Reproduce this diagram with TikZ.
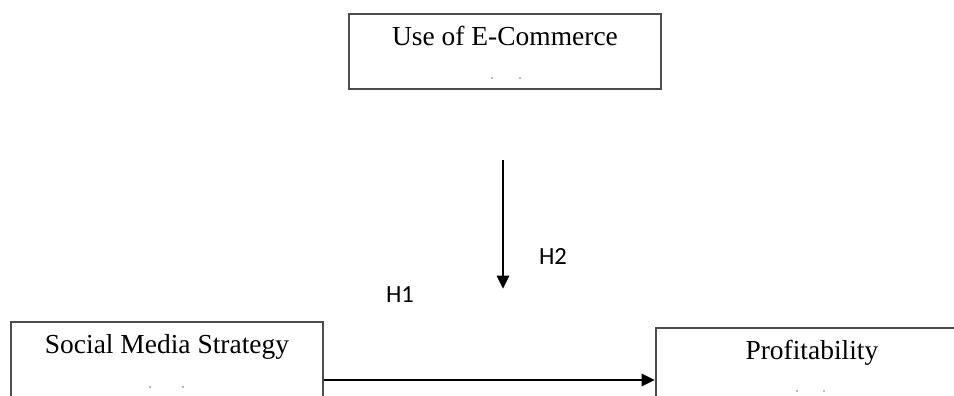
\documentclass[tikz,border=0pt]{standalone}
\usepackage{fontspec}
\setmainfont{Liberation Serif}
\newfontfamily\hypfont{Carlito}
\usepackage{tikz}
\usetikzlibrary{positioning, arrows.meta}
\tikzset{
	x=0.75pt, y=-0.75pt, % one unit is one pixel of the reference
	varbox/.style={draw=black!70, line width=1.4pt, fill=white, inner sep=0pt, minimum width=234pt, text height=24pt, font=\fontsize{20.6}{24}\selectfont}, % variable boxes
	link/.style={-{Triangle[length=10pt, width=9pt]}, line width=2.2pt}, % hypothesis arrows
	hyp/.style={font=\hypfont\fontsize{18.5}{20}\selectfont}, % H labels
	speck/.style={circle, fill=black!55, inner sep=0pt, minimum size=1.4pt}, % small dots in the boxes
}
\begin{document}
\begin{tikzpicture}
		\useasboundingbox (0,0) rectangle (954,396);
		\clip (0,0) rectangle (954,396);
		
		\node[varbox, text depth=32.25pt, anchor=north] (ecom) at (505,13) {Use of E-Commerce};
		\node[varbox, text depth=50pt, anchor=north] (social) at (167,321) {Social Media Strategy};
		\node[varbox, text depth=50pt, anchor=north west] (profit) at (655,327) {Profitability};
		
		\node[speck] (e1) at (492,78) {};
		\node[speck] (e2) at (520,78) {};
		\node[speck] (s1) at (150,387) {};
		\node[speck] (s2) at (183,387) {};
		\node[speck] (p1) at (797,391) {};
		\node[speck] (p2) at (824,391) {};
		
		\coordinate (vtop) at (503,160);
		\coordinate (vbot) at (503,289);
		\draw[link] (vtop) -- (vbot);
		\draw[link] (social.east |- 0,380) -- (profit.west |- 0,380);
		
		\node[hyp] (h2) at (553,256) {H2};
		\node[hyp] (h1) at (400,295) {H1};
\end{tikzpicture}
\end{document}
